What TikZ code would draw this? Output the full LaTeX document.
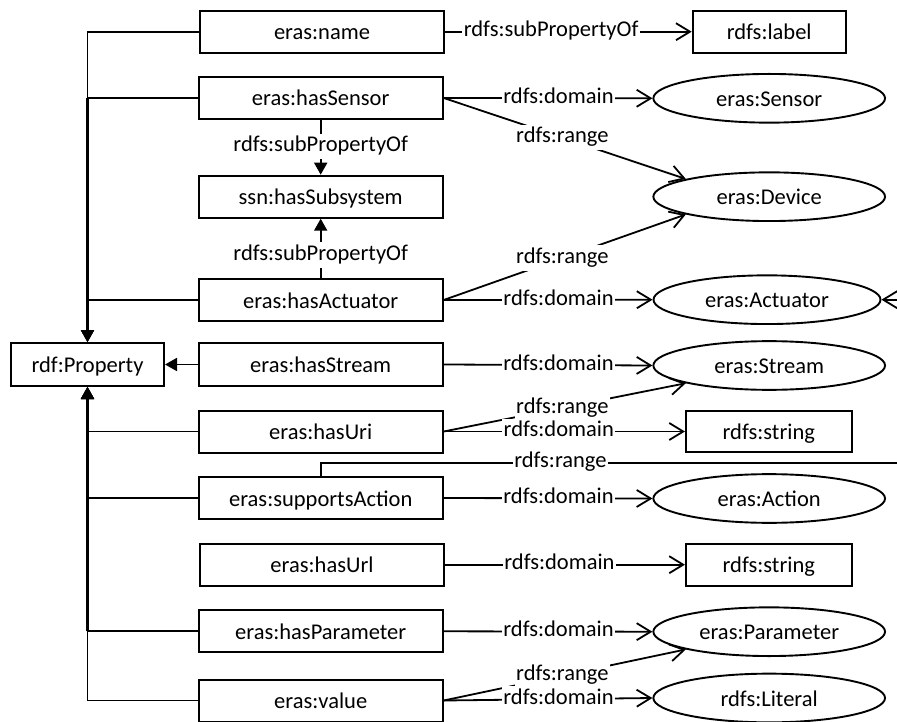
\documentclass[tikz,border=0pt]{standalone}
\usepackage{fontspec}
\setmainfont{Carlito}
\usetikzlibrary{arrows.meta,shapes.geometric}
\begin{document}
\begin{tikzpicture}[x=1pt,y=-1pt,
  every node/.style={font=\fontsize{22.5}{27}\selectfont},
  prop/.style={draw, line width=2pt, minimum width=244pt, minimum height=42pt,
               inner sep=0pt, text height=16pt, text depth=0pt},
  cls/.style={draw, ellipse, line width=1.9pt, minimum width=231.7pt, minimum height=48.7pt,
              inner sep=0pt, text height=16pt, text depth=0pt},
  lit/.style={prop, minimum width=165.7pt, minimum height=41.6pt},
  lbl/.style={fill=white, inner xsep=1.5pt, inner ysep=2pt, text height=16pt, text depth=5.5pt},
  rel/.style={line width=1.8pt, -{Straight Barb[length=14pt,width=17pt,line width=1.8pt]}},
  sub/.style={line width=1.8pt, -{Triangle[length=12pt,width=13pt]}},
  trunk/.style={line width=3pt, shorten >=10pt},
]
\useasboundingbox (0,0) rectangle (897,722);

% property column
\node[prop] (name) at (322,31.7) {eras:name};
\node[prop] (hasSensor) at (320.7,98) {eras:hasSensor};
\node[prop] (hasSubsystem) at (320.7,196.7) {ssn:hasSubsystem};
\node[prop] (hasActuator) at (320.7,300) {eras:hasActuator};
\node[prop, minimum height=43pt] (hasStream) at (320.7,364.5) {eras:hasStream};
\node[prop] (hasUri) at (320.7,431.5) {eras:hasUri};
\node[prop] (supportsAction) at (320.7,498) {eras:supportsAction};
\node[prop] (hasUrl) at (322,564.7) {eras:hasUrl};
\node[prop] (hasParameter) at (320.7,631.3) {eras:hasParameter};
\node[prop] (value) at (320.7,700.5) {eras:value};

% super property
\node[prop, minimum width=153pt, minimum height=43pt] (Property) at (87.5,364.5) {rdf:Property};

% domains and ranges
\node[prop, minimum width=153pt] (label) at (769.2,31.7) {rdfs:label};
\node[cls] (Sensor) at (769.2,98.3) {eras:Sensor};
\node[cls] (Device) at (769.2,196.7) {eras:Device};
\node[cls, minimum width=227pt] (Actuator) at (767,299.7) {eras:Actuator};
\node[cls] (Stream) at (769.2,365.5) {eras:Stream};
\node[lit] (string1) at (768.8,431.5) {rdfs:string};
\node[cls] (Action) at (769.2,498.5) {eras:Action};
\node[lit] (string2) at (768.8,564.7) {rdfs:string};
\node[cls] (Parameter) at (769.2,631.7) {eras:Parameter};
\node[cls] (Literal) at (769.2,698) {rdfs:Literal};

\coordinate (loopR) at (920,462.7);

% rdf:Property hierarchy
\draw[sub] (name.west) -| (Property.north);
\draw[sub] (hasSensor.west) -| (Property.north);
\draw[sub] (hasActuator.west) -| (Property.north);
\draw[sub] (hasStream.west) -- (Property.east);
\draw[sub] (hasUri.west) -| (Property.south);
\draw[sub] (supportsAction.west) -| (Property.south);
\draw[sub] (hasParameter.west) -| (Property.south);
\draw[sub] (value.west) -| (Property.south);
\draw[trunk] (hasSensor.west -| Property.north) -- (Property.north);
\draw[trunk] (hasParameter.west -| Property.south) -- (Property.south);

% sub-properties of ssn:hasSubsystem
\draw[sub] (hasSensor.south) -- node[lbl, pos=0.48] {rdfs:subPropertyOf} (hasSubsystem.north);
\draw[sub] (hasActuator.north) -- node[lbl, pos=0.39] {rdfs:subPropertyOf} (hasSubsystem.south);

% domain / range links
\draw[rel] (name.east) -- node[lbl, pos=0.43] {rdfs:subPropertyOf} (label.west);
\draw[rel] (hasSensor.east) -- node[lbl, pos=0.55] {rdfs:domain} (Sensor.west);
\draw[rel] (hasSensor.east) -- node[lbl, pos=0.49] {rdfs:range} (Device.168);
\draw[rel] (hasActuator.east) -- node[lbl, pos=0.49] {rdfs:range} (Device.192);
\draw[rel] (hasActuator.east) -- node[lbl, pos=0.55] {rdfs:domain} (Actuator.west);
\draw[rel] (hasStream.east) -- node[lbl, pos=0.55] {rdfs:domain} (Stream.west);
\draw[rel] (hasUri.east) -- node[lbl, pos=0.49] {rdfs:range} (Stream.192);
\draw[rel] (hasUri.east) -- node[lbl, pos=0.477] {rdfs:domain} (string1.west);
\draw[rel] (supportsAction.north) |- node[lbl, pos=0.70] {rdfs:range} (loopR) |- (Actuator.east);
\draw[rel] (supportsAction.east) -- node[lbl, pos=0.55] {rdfs:domain} (Action.west);
\draw[rel] (hasUrl.east) -- node[lbl, pos=0.477] {rdfs:domain} (string2.west);
\draw[rel] (hasParameter.east) -- node[lbl, pos=0.55] {rdfs:domain} (Parameter.west);
\draw[rel] (value.east) -- node[lbl, pos=0.49] {rdfs:range} (Parameter.192);
\draw[rel] (value.east) -- node[lbl, pos=0.55] {rdfs:domain} (Literal.west);
\end{tikzpicture}
\end{document}
